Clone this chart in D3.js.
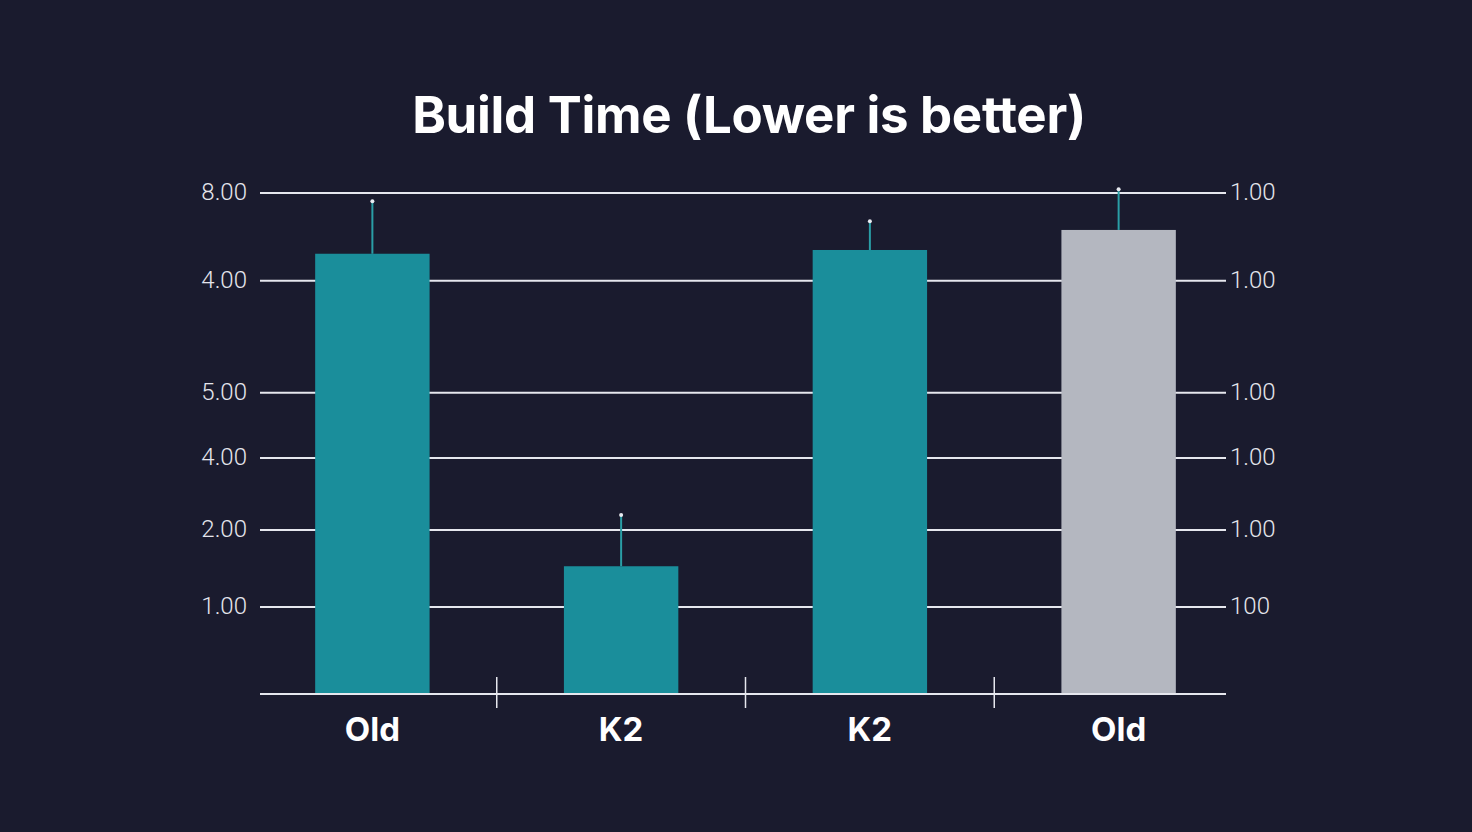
<!DOCTYPE html>
<html lang="en">
<head>
  <meta charset="UTF-8">
  <title>Build Time</title>
  <script src="https://cdn.jsdelivr.net/npm/d3@7"></script>
  <style>
    html, body { margin: 0; padding: 0; background: #1a1b2e; }
    svg { display: block; }
  </style>
</head>
<body>
  <svg id="chart" width="1472" height="832"></svg>
  <script>
    // data
    let categories = ['Old', 'K2', 'K2 ', 'Old '];
    let labels = ['Old', 'K2', 'K2', 'Old'];
    let values = [7.03, 2.04, 7.09, 7.41];
    let errorTops = [7.87, 2.86, 7.55, 8.06];
    let isOld = [false, false, false, true];
    // grid lines sit at these values; their labels don't follow them
    let gridValues = [1.39, 2.62, 3.77, 4.81, 6.6, 8.0];
    let leftLabels = ['1.00', '2.00', '4.00', '5.00', '4.00', '8.00'];
    let rightLabels = ['100', '1.00', '1.00', '1.00', '1.00', '1.00'];

    let svg = d3.select('#chart');
    let W = 1472, H = 832;

    svg.append('rect')
      .attr('width', W).attr('height', H)
      .attr('fill', '#1a1b2e');

    let x = d3.scaleBand()
      .domain(categories)
      .range([248, 1243])
      .paddingInner(0.54)
      .paddingOuter(0.27);

    let y = d3.scaleLinear().domain([0, 8]).range([694, 193]);

    let axisLeft = 260, axisRight = 1226;

    // title
    svg.append('text')
      .attr('x', 749).attr('y', 133)
      .attr('text-anchor', 'middle')
      .attr('fill', '#ffffff')
      .style('font-family', 'Inter, "Noto Sans", sans-serif')
      .style('font-weight', 700)
      .style('font-size', '51px')
      .style('letter-spacing', '-0.3px')
      .text('Build Time (Lower is better)');

    // grid
    svg.append('g')
      .selectAll('line')
      .data(gridValues)
      .join('line')
      .attr('x1', axisLeft).attr('x2', axisRight)
      .attr('y1', d => y(d)).attr('y2', d => y(d))
      .attr('stroke', '#e6e7ee')
      .attr('stroke-width', 2);

    let labelFont = 'Roboto, Inter, sans-serif';
    svg.append('g')
      .selectAll('text')
      .data(gridValues)
      .join('text')
      .attr('x', 247)
      .attr('y', d => y(d))
      .attr('dy', '0.3em')
      .attr('text-anchor', 'end')
      .attr('fill', '#e4e5ec')
      .style('font-family', labelFont)
      .style('font-weight', 300)
      .style('font-size', '24px')
      .text((d, i) => leftLabels[i]);

    svg.append('g')
      .selectAll('text')
      .data(gridValues)
      .join('text')
      .attr('x', 1230)
      .attr('y', d => y(d))
      .attr('dy', '0.3em')
      .attr('text-anchor', 'start')
      .attr('fill', '#e4e5ec')
      .style('font-family', labelFont)
      .style('font-weight', 300)
      .style('font-size', '24px')
      .text((d, i) => rightLabels[i]);

    // bars
    svg.append('g')
      .selectAll('rect')
      .data(categories)
      .join('rect')
      .attr('x', d => x(d))
      .attr('width', x.bandwidth())
      .attr('y', (d, i) => y(values[i]))
      .attr('height', (d, i) => y(0) - y(values[i]))
      .attr('fill', (d, i) => isOld[i] ? '#b4b7c0' : '#1a8e9b');

    // error whiskers
    let err = svg.append('g');
    err.selectAll('line')
      .data(categories)
      .join('line')
      .attr('x1', d => x(d) + x.bandwidth() / 2)
      .attr('x2', d => x(d) + x.bandwidth() / 2)
      .attr('y1', (d, i) => y(values[i]))
      .attr('y2', (d, i) => y(errorTops[i]))
      .attr('stroke', '#2a9ea6')
      .attr('stroke-width', 2);
    err.selectAll('circle')
      .data(categories)
      .join('circle')
      .attr('cx', d => x(d) + x.bandwidth() / 2)
      .attr('cy', (d, i) => y(errorTops[i]))
      .attr('r', 2)
      .attr('fill', '#e8eaf0');

    // baseline
    svg.append('line')
      .attr('x1', axisLeft).attr('x2', axisRight)
      .attr('y1', y(0)).attr('y2', y(0))
      .attr('stroke', '#e6e7ee')
      .attr('stroke-width', 2);

    // dividers between categories
    let mids = categories.slice(1).map((d, i) =>
      (x(categories[i]) + x(d)) / 2 + x.bandwidth() / 2);
    svg.append('g')
      .selectAll('line')
      .data(mids)
      .join('line')
      .attr('x1', d => d).attr('x2', d => d)
      .attr('y1', y(0) - 17).attr('y2', y(0) + 14)
      .attr('stroke', '#e6e7ee')
      .attr('stroke-width', 1.5);

    // category labels
    svg.append('g')
      .selectAll('text')
      .data(categories)
      .join('text')
      .attr('x', d => x(d) + x.bandwidth() / 2)
      .attr('y', 741)
      .attr('text-anchor', 'middle')
      .attr('fill', '#ffffff')
      .style('font-family', 'Inter, "Noto Sans", sans-serif')
      .style('font-weight', 700)
      .style('font-size', '33px')
      .text((d, i) => labels[i]);
  </script>
</body>
</html>
